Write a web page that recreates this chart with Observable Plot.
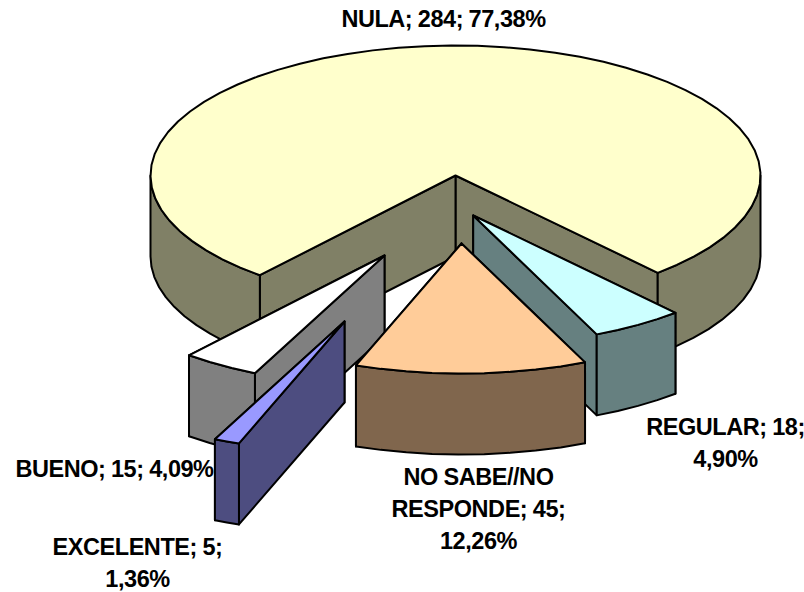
<!DOCTYPE html>
<html>
<head>
<meta charset="utf-8">
<script src="https://cdn.jsdelivr.net/npm/d3@7"></script>
<script src="https://cdn.jsdelivr.net/npm/@observablehq/plot@0.6"></script>
<style>
html, body { margin: 0; padding: 0; background: #fff; }
svg { display: block; }
</style>
</head>
<body>
<div id="chart"></div>
<script>
// Data, clockwise from the left end of the big slice
const categories = ["NULA", "REGULAR", "NO SABE//NO RESPONDE", "EXCELENTE", "BUENO"];
const counts = [284, 18, 45, 5, 15];
const percents = [77.38, 4.90, 12.26, 1.36, 4.09];
const labels = [
  "NULA; 284; 77,38%",
  "REGULAR; 18;\n4,90%",
  "NO SABE//NO\nRESPONDE; 45;\n12,26%",
  "EXCELENTE; 5;\n1,36%",
  "BUENO; 15; 4,09%"
];
const topColors = ["#FFFFCC", "#CCFFFF", "#FFCC99", "#9999FF", "#FFFFFF"];
const sideColors = ["#808066", "#668080", "#80664D", "#4D4D80", "#808080"];

// Layout of the drawing
const W = 804, H = 592;
const cx = 455, cy = 175, rx = 305, ry = 130, depth = 81;
const firstAngle = 219.9;
const explode = [[0, 0], [17.7, 40], [6, 68], [-111, 146], [-71, 80]];
const labelPos = [[443, 4], [725, 412], [478, 462], [137, 532], [114, 454]];
const paintOrder = [0, 4, 1, 2, 3];

const rad = d => d * Math.PI / 180;
const pt = (a, ox, oy, dz = 0) => ({
  x: cx + ox + rx * Math.sin(rad(a)),
  y: cy + oy + dz - ry * Math.cos(rad(a))
});
function arc(a0, a1, ox, oy, dz = 0) {
  const n = Math.max(2, Math.ceil((a1 - a0) / 5));
  return d3.range(n + 1).map(i => pt(a0 + (a1 - a0) * i / n, ox, oy, dz));
}
const face = (points, fill) => Plot.line([...points, points[0]], {
  x: "x", y: "y", fill, stroke: "#000", strokeWidth: 2,
  strokeLinejoin: "round", curve: "linear"
});

let start = firstAngle;
const slices = percents.map((p, i) => {
  const s = {i, a0: start, a1: start + p * 3.6};
  start = s.a1;
  return s;
});

const marks = [];
for (const k of paintOrder) {
  const {a0, a1, i} = slices[k];
  const [ox, oy] = explode[i];
  const apex = {x: cx + ox, y: cy + oy};
  const apexLow = {x: apex.x, y: apex.y + depth};
  // cut faces: the flatter one sits behind
  const cuts = [a0, a1].sort((p, q) => Math.abs(Math.sin(rad(q))) - Math.abs(Math.sin(rad(p))));
  for (const a of cuts) {
    marks.push(face([apex, pt(a, ox, oy), pt(a, ox, oy, depth), apexLow], sideColors[i]));
  }
  // outer rim: only the part that faces the viewer
  for (const [lo, hi] of [[90, 270], [450, 630]]) {
    const r0 = Math.max(a0, lo), r1 = Math.min(a1, hi);
    if (r1 > r0) {
      marks.push(face([...arc(r0, r1, ox, oy), ...arc(r0, r1, ox, oy, depth).reverse()], sideColors[i]));
    }
  }
  // top
  marks.push(face([apex, ...arc(a0, a1, ox, oy)], topColors[i]));
}

const labelRows = labels.map((text, i) => ({text, x: labelPos[i][0], y: labelPos[i][1]}));
marks.push(Plot.text(labelRows, {
  x: "x", y: "y", text: "text", lineAnchor: "top", lineHeight: 32 / 23.5,
  fontSize: 23.5, fontWeight: "bold", fill: "#000", textAnchor: "middle"
}));

const chart = Plot.plot({
  width: W, height: H,
  margin: 0,
  x: {axis: null, domain: [0, W], range: [0, W]},
  y: {axis: null, domain: [0, H], range: [0, H]},
  style: {fontFamily: "'Liberation Sans', Arial, sans-serif", letterSpacing: "-0.45px", wordSpacing: "-0.5px", background: "#fff"},
  marks
});
document.getElementById("chart").append(chart);
</script>
</body>
</html>
